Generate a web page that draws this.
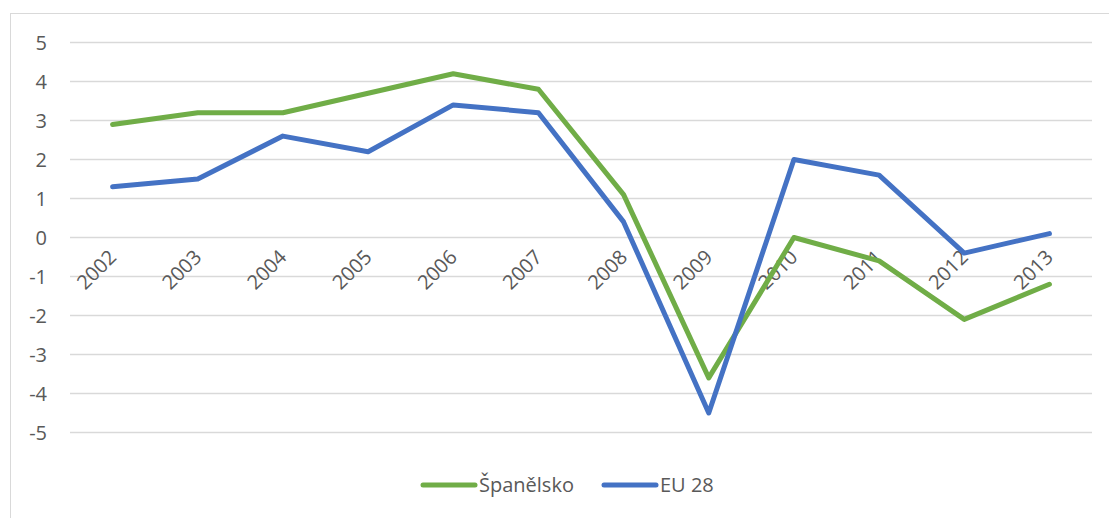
<!DOCTYPE html>
<html>
<head>
<meta charset="utf-8">
<script src="https://cdn.jsdelivr.net/npm/d3@7"></script>
<style>
  body { margin: 0; background: #fff; }
  text { font-family: "Open Sans", sans-serif; fill: #595959; }
</style>
</head>
<body>
<div id="chart"></div>
<script>
// data
var years = ['2002', '2003', '2004', '2005', '2006', '2007', '2008', '2009', '2010', '2011', '2012', '2013'];
var spain = [2.9, 3.2, 3.2, 3.7, 4.2, 3.8, 1.1, -3.6, 0.0, -0.6, -2.1, -1.2];
var eu28 = [1.3, 1.5, 2.6, 2.2, 3.4, 3.2, 0.4, -4.5, 2.0, 1.6, -0.4, 0.1];
var y_ticks = [5, 4, 3, 2, 1, 0, -1, -2, -3, -4, -5];
var series_names = ['Španělsko', 'EU 28'];
var series_colors = ['#70AD47', '#4472C4'];

var chart_width = 1109;
var chart_height = 518;

var svg = d3
  .select('#chart')
  .append('svg')
  .attr('width', chart_width)
  .attr('height', chart_height);

// chart border
svg
  .append('rect')
  .attr('x', 10.5)
  .attr('y', 13.5)
  .attr('width', 1120)
  .attr('height', 520)
  .attr('fill', 'none')
  .attr('stroke', '#d9d9d9')
  .attr('stroke-width', 1);

var x_scale = d3
  .scaleBand()
  .domain(years)
  .range([70, 1092]);

var y_scale = d3
  .scaleLinear()
  .domain([-5, 5])
  .range([432.5, 42.5]);

// gridlines
svg
  .selectAll('.grid')
  .data(y_ticks)
  .enter()
  .append('line')
  .attr('class', 'grid')
  .attr('x1', 70)
  .attr('x2', 1092)
  .attr('y1', function(d) {
    return y_scale(d);
  })
  .attr('y2', function(d) {
    return y_scale(d);
  })
  .attr('stroke', '#d9d9d9')
  .attr('stroke-width', 1.5);

// y labels
svg
  .selectAll('.ylab')
  .data(y_ticks)
  .enter()
  .append('text')
  .attr('class', 'ylab')
  .text(function(d) {
    return d;
  })
  .attr('x', 47)
  .attr('y', function(d) {
    return y_scale(d) + 7;
  })
  .attr('text-anchor', 'end')
  .attr('font-size', 20);

// x labels, rotated, sitting on the zero line
svg
  .selectAll('.xlab')
  .data(years)
  .enter()
  .append('text')
  .attr('class', 'xlab')
  .text(function(d) {
    return d;
  })
  .attr('text-anchor', 'end')
  .attr('font-size', 20)
  .attr('transform', function(d) {
    var x = x_scale(d) + x_scale.bandwidth() / 2 + 5;
    var y = y_scale(0) + 21;
    return 'translate(' + x + ',' + y + ') rotate(-45)';
  });

var line = d3
  .line()
  .x(function(d, i) {
    return x_scale(years[i]) + x_scale.bandwidth() / 2;
  })
  .y(function(d) {
    return y_scale(d);
  });

var all_series = [spain, eu28];
svg
  .selectAll('.series')
  .data(all_series)
  .enter()
  .append('path')
  .attr('class', 'series')
  .attr('d', function(d) {
    return line(d);
  })
  .attr('fill', 'none')
  .attr('stroke', function(d, i) {
    return series_colors[i];
  })
  .attr('stroke-width', 5)
  .attr('stroke-linejoin', 'round')
  .attr('stroke-linecap', 'round');

// legend
var legend_x = [421, 602];
var legend = svg
  .selectAll('.legend')
  .data(series_names)
  .enter()
  .append('g')
  .attr('class', 'legend')
  .attr('transform', function(d, i) {
    return 'translate(' + legend_x[i] + ',485)';
  });

legend
  .append('line')
  .attr('x1', 2)
  .attr('x2', 54)
  .attr('stroke', function(d, i) {
    return series_colors[i];
  })
  .attr('stroke-width', 5)
  .attr('stroke-linecap', 'round');

legend
  .append('text')
  .text(function(d) {
    return d;
  })
  .attr('x', 58)
  .attr('y', 7)
  .attr('font-size', 20);
</script>
</body>
</html>
